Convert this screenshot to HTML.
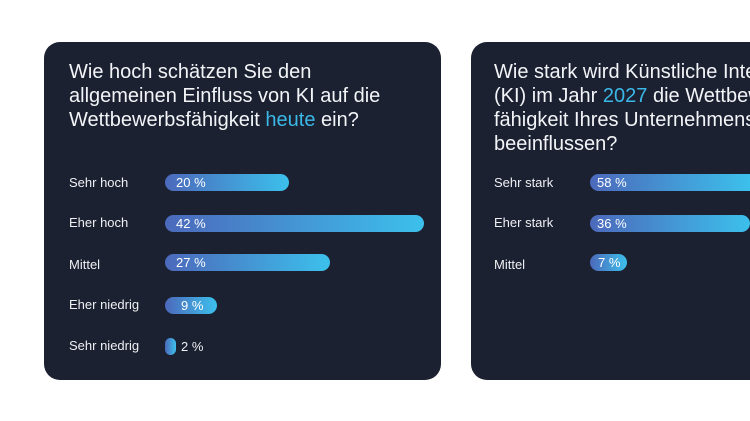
<!DOCTYPE html>
<html><head><style>
html,body{margin:0;padding:0;}
#w{width:750px;height:421px;background:#fff;position:relative;overflow:hidden;font-family:"Liberation Sans",sans-serif;}
.card{position:absolute;top:42px;height:338px;background:#1c2131;border-radius:16px;}
.t{position:absolute;color:#f2f4f7;font-size:20px;line-height:24px;white-space:nowrap;}
.t span{color:#3ab8e8}
.l{position:absolute;color:#eef0f3;font-size:13px;line-height:16px;white-space:nowrap}
.b{position:absolute;height:17px;border-radius:9px;background:linear-gradient(90deg,#4c69bb,#3cc0ec);color:#fff;font-size:13px;line-height:17px;box-sizing:border-box;padding-left:11px;white-space:nowrap;overflow:hidden}
</style></head><body><div id="w">
<div class="card" style="left:44px;width:397px"></div>
<div class="card" style="left:471px;width:279px;border-radius:16px 0 0 16px"></div>
<div class="t" style="left:69px;top:60px">Wie hoch schätzen Sie den<br>allgemeinen Einfluss von KI auf die<br>Wettbewerbsfähigkeit <span>heute</span> ein?</div>
<div class="l" style="left:69px;top:175px">Sehr hoch</div>
<div class="b" style="left:165px;top:174px;width:124px">20 %</div>
<div class="l" style="left:69px;top:215px">Eher hoch</div>
<div class="b" style="left:165px;top:215px;width:259px">42 %</div>
<div class="l" style="left:69px;top:257px">Mittel</div>
<div class="b" style="left:165px;top:254px;width:165px">27 %</div>
<div class="l" style="left:69px;top:297px">Eher niedrig</div>
<div class="b" style="left:165px;top:297px;width:52px;padding-left:16px">9 %</div>
<div class="l" style="left:69px;top:338px">Sehr niedrig</div>
<div class="b" style="left:165px;top:338px;width:11px;padding:0"></div>
<div class="l" style="left:181px;top:339px">2 %</div>
<div class="t" style="left:494px;top:60px;width:256px;overflow:hidden">Wie stark wird Künstliche Intelligenz<br>(KI) im Jahr <span>2027</span> die Wettbewerbs-<br>fähigkeit Ihres Unternehmens<br>beeinflussen?</div>
<div class="l" style="left:494px;top:175px">Sehr stark</div>
<div class="b" style="left:590px;top:174px;width:160px;padding-left:7px;border-radius:9px 0 0 9px">58 %</div>
<div class="l" style="left:494px;top:215px">Eher stark</div>
<div class="b" style="left:590px;top:215px;width:160px;padding-left:7px">36 %</div>
<div class="l" style="left:494px;top:257px">Mittel</div>
<div class="b" style="left:590px;top:254px;width:37px;padding-left:8px">7 %</div>
</div></body></html>
